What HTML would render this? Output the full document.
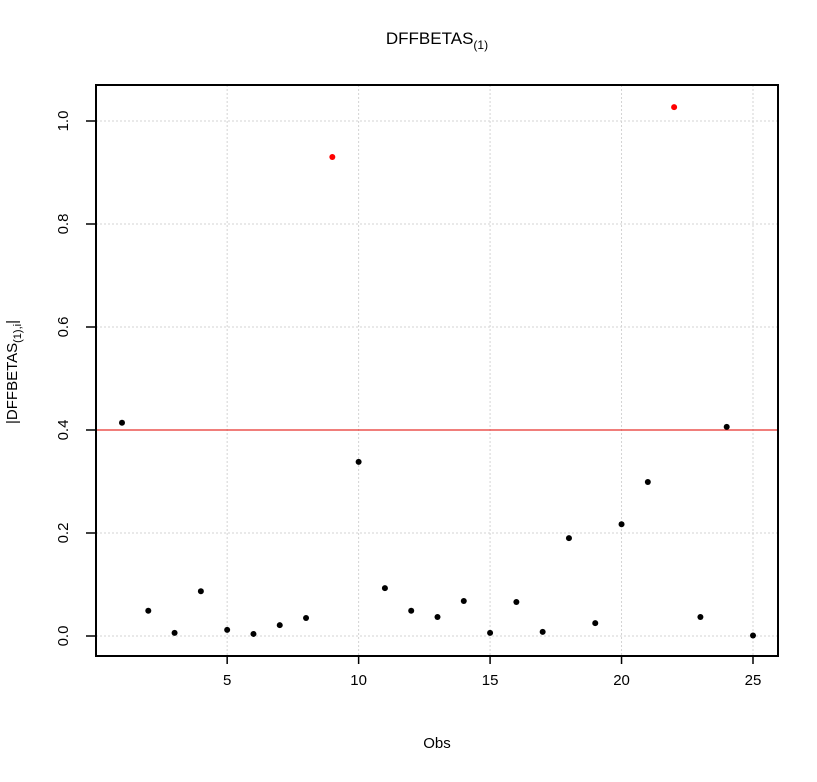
<!DOCTYPE html>
<html><head><meta charset="utf-8"><style>
body{margin:0;background:#fff;}
svg text{font-family:"Liberation Sans",Arial,sans-serif;}
</style></head><body>
<svg id="chart" width="817" height="777" xmlns="http://www.w3.org/2000/svg">
<text x="437" y="44" font-size="17" text-anchor="middle">DFFBETAS<tspan font-size="12" dy="5">(1)</tspan></text>
<text x="437" y="748" font-size="15" text-anchor="middle">Obs</text>
<text transform="translate(17,372) rotate(-90)" font-size="15" text-anchor="middle">|DFFBETAS<tspan font-size="11" dy="4">(1),i</tspan><tspan dy="-4">|</tspan></text>
<g id="grid"></g>
<g id="axes"></g>
<g id="marks"></g>
<rect x="96" y="85" width="682" height="571" fill="none" stroke="#000" stroke-width="2"/>
</svg>
<script>
const obs=[1,2,3,4,5,6,7,8,9,10,11,12,13,14,15,16,17,18,19,20,21,22,23,24,25];
const values=[0.414,0.049,0.006,0.087,0.012,0.004,0.021,0.035,0.930,0.338,0.093,0.049,0.037,0.068,0.006,0.066,0.008,0.190,0.025,0.217,0.299,1.027,0.037,0.406,0.001];
const flagged=[0,0,0,0,0,0,0,0,1,0,0,0,0,0,0,0,0,0,0,0,0,1,0,0,0];
const xTicks=[5,10,15,20,25];
const yTicks=[0,0.2,0.4,0.6,0.8,1.0];
const yTickLabels=["0.0","0.2","0.4","0.6","0.8","1.0"];
const cutoff=0.4;
const NS="http://www.w3.org/2000/svg";
const L=96,R=778,T=85,B=656;
function xs(v){return 122+(v-1)*(753-122)/24;}
function ys(v){return 636-v*515;}
function mk(tag,attrs,parent){const e=document.createElementNS(NS,tag);for(const k in attrs)e.setAttribute(k,attrs[k]);parent.appendChild(e);return e;}
const grid=document.getElementById('grid'),axes=document.getElementById('axes'),marks=document.getElementById('marks');
xTicks.forEach(t=>{
  const g=mk('line',{x1:xs(t),x2:xs(t),y1:T,y2:B,stroke:'#d3d3d3','stroke-dasharray':'2,2'},grid);
  
  
  const tk=mk('line',{x1:xs(t),x2:xs(t),y1:B,y2:B+8,stroke:'#000','stroke-width':1.5},axes);
  
  
  const tx=mk('text',{x:xs(t),y:B+29,'font-size':15,'text-anchor':'middle'},axes);tx.textContent=t;
  
  
});
yTicks.forEach((t,i)=>{
  const g=mk('line',{x1:L,x2:R,y1:ys(t),y2:ys(t),stroke:'#d3d3d3','stroke-dasharray':'2,2'},grid);
  
  
  const tk=mk('line',{x1:L-10,x2:L,y1:ys(t),y2:ys(t),stroke:'#000','stroke-width':1.5},axes);
  
  
  const tx=mk('text',{transform:`translate(68,${ys(t)}) rotate(-90)`,'font-size':15,'text-anchor':'middle'},axes);tx.textContent=yTickLabels[i];
  
  
});
const cl=mk('line',{x1:L,x2:R,y1:ys(cutoff),y2:ys(cutoff),stroke:'#e8302c','stroke-width':1.3},marks);


obs.forEach((o,i)=>{
  const c=mk('circle',{cx:xs(o),cy:ys(values[i]),r:3,fill:flagged[i]?'#ff0000':'#000'},marks);
  
  
});
</script>
</body></html>
